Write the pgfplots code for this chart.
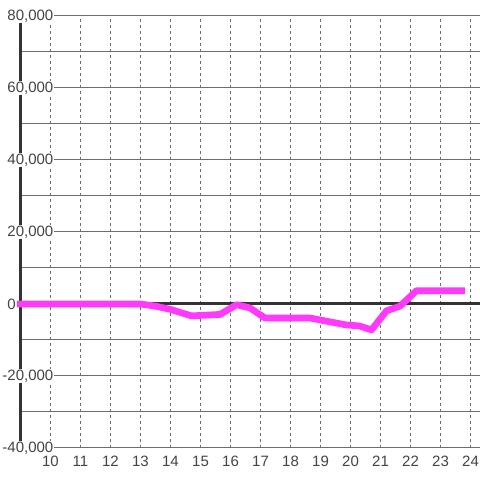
\documentclass[border=0pt]{standalone}
\usepackage{fontspec}
\setmainfont{Liberation Sans}
\usepackage{pgfplots}
\pgfplotsset{compat=1.18}
\definecolor{mag}{RGB}{255,58,250}
\definecolor{txt}{RGB}{68,68,68}
\definecolor{axc}{RGB}{51,51,51}
\definecolor{grd}{RGB}{110,110,110}
\begin{document}
\begin{tikzpicture}
\begin{axis}[name=ax,
 scale only axis, width=459.5bp, height=432bp,
 xmin=9, xmax=24.3167, ymin=-40000, ymax=80000,
 scaled y ticks=false, scaled x ticks=false,
 axis x line*=bottom, axis y line*=left,
 x axis line style={draw=none},
 y axis line style={draw=axc, line width=3bp, -},
 xtick={10,...,24},
 ytick={-40000,-20000,20000,40000,60000,80000},
 yticklabels={{-40,000},{-20,000},{20,000},{40,000},{60,000},{80,000}},
 minor ytick={-30000,-10000,10000,30000,50000,70000},
 extra y ticks={0}, extra y tick labels={0},
 extra y tick style={yticklabel style={xshift=-37.5bp, fill=none}},
 major tick length=0pt, minor tick length=0pt,
 tick style={draw=none},
 ymajorgrids, yminorgrids, xmajorgrids,
 major x grid style={grd, dash pattern=on 3bp off 3bp, line width=1bp},
 major y grid style={grd, line width=1bp},
 minor y grid style={grd, line width=1bp},
 tick label style={font=\fontsize{15bp}{18bp}\selectfont, text=txt},
 yticklabel style={anchor=east, fill=white, inner sep=1bp, xshift=34bp},
 xticklabel style={inner sep=1bp, yshift=-7bp},
 /pgf/number format/assume math mode=true,
 clip=false,
]
\addplot[axc, line width=3bp, forget plot] coordinates {(9,0) (24.3167,0)};
\addplot[mag, line width=6.7bp, line cap=rect, line join=round] coordinates {
(9,0) (13,0) (13.5,-600) (14,-1500) (14.7,-3300) (15.65,-2900) (16.2,-200)
(16.65,-1100) (17.15,-3900) (18.65,-3900) (19.85,-5800) (20.3,-6100)
(20.7,-7200) (21.2,-1900) (21.65,-600) (22.2,3700) (23.7,3700)};
\end{axis}
\pgfresetboundingbox
\path[use as bounding box] ([xshift=-20.5bp,yshift=-32bp]ax.south west) rectangle ([yshift=16bp]ax.north east);
\end{tikzpicture}
\end{document}
